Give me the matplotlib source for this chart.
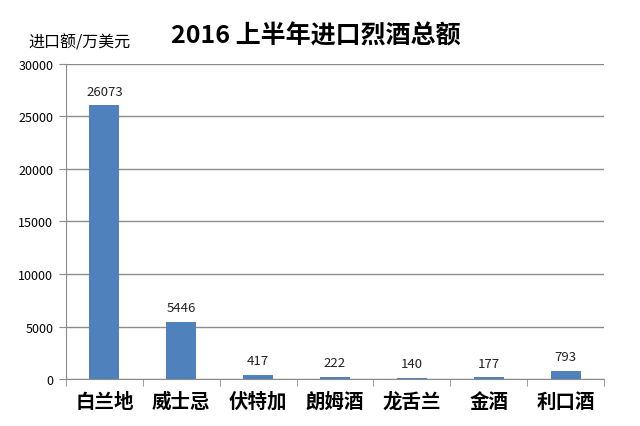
import numpy as np
import matplotlib.pyplot as plt
from matplotlib.ticker import FixedLocator

plt.rcParams['font.family'] = ['Noto Sans CJK SC', 'DejaVu Sans']

categories = ['白兰地', '威士忌', '伏特加', '朗姆酒', '龙舌兰', '金酒', '利口酒']
values = [26073, 5446, 417, 222, 140, 177, 793]
yticks = [0, 5000, 10000, 15000, 20000, 25000, 30000]

fig = plt.figure(figsize=(6.4, 4.27), dpi=100)
ax = fig.add_axes([0.103, 0.110, 0.841, 0.738])

x = np.arange(len(categories))
ax.bar(x, values, width=0.39, color='#4f81bd', zorder=3)
for xi, v in zip(x, values):
    ax.text(xi, v + 700, str(v), ha='center', va='bottom', fontsize=9.5, color='#222222')

ax.set_xlim(-0.5, len(categories) - 0.5)
ax.set_ylim(0, 30000)
ax.set_yticks(yticks)
ax.set_yticklabels([str(t) for t in yticks], fontsize=9)
ax.yaxis.grid(True, color='#8c8c8c', linewidth=1, zorder=0)

ax.set_xticks(x)
ax.set_xticklabels(categories, fontsize=14, fontweight='bold')
ax.tick_params(axis='x', which='major', length=0, pad=9)
ax.xaxis.set_minor_locator(FixedLocator(np.arange(-0.5, len(categories), 1)))
ax.tick_params(axis='x', which='minor', length=5, color='#8c8c8c')
ax.tick_params(axis='y', length=5, color='#8c8c8c', pad=4)

for s in ['top', 'right']:
    ax.spines[s].set_visible(False)
for s in ['left', 'bottom']:
    ax.spines[s].set_color('#8c8c8c')

fig.text(0.494, 0.915, '2016 上半年进口烈酒总额', ha='center', va='center',
         fontsize=18, fontweight='bold')
fig.text(0.045, 0.90, '进口额/万美元', ha='left', va='center', fontsize=11.5)

fig.savefig('out.png', dpi=100)
